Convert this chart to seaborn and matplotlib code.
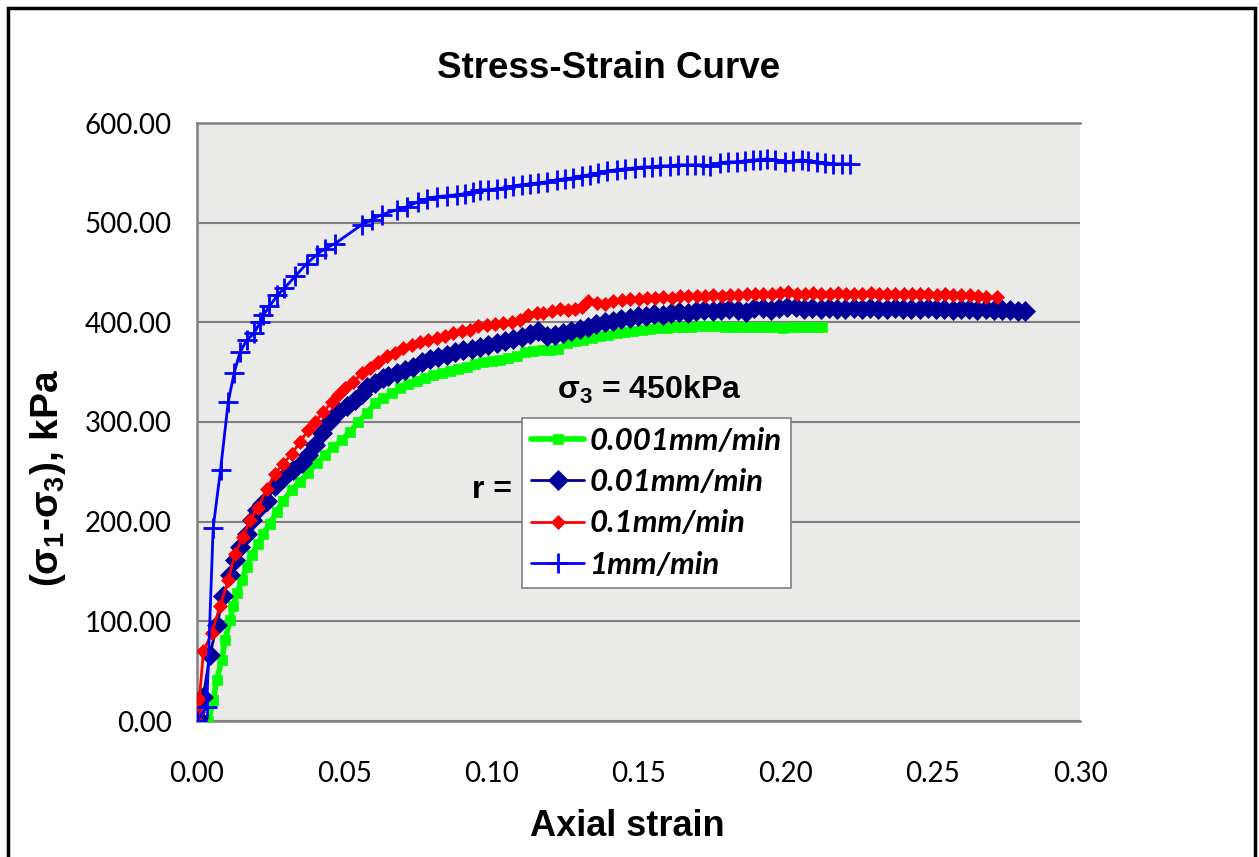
import matplotlib
matplotlib.use("Agg")
import matplotlib.pyplot as plt
import seaborn as sns
from matplotlib.patches import Rectangle

# data: axial strain vs deviator stress (kPa)
strain_001 = [0.0039, 0.0055, 0.0067, 0.0084, 0.0095, 0.0112, 0.0123, 0.0135, 0.0152, 0.0169,
              0.0186, 0.0208, 0.0225, 0.0248, 0.0271, 0.0293, 0.0322, 0.0350, 0.0378, 0.0407,
              0.0435, 0.0463, 0.0492, 0.0520, 0.0548, 0.0577, 0.0605, 0.0633, 0.0661, 0.0690,
              0.0718, 0.0747, 0.0775, 0.0803, 0.0831, 0.0860, 0.0888, 0.0916, 0.0945, 0.0973,
              0.1001, 0.1030, 0.1058, 0.1086, 0.1115, 0.1143, 0.1171, 0.1200, 0.1228, 0.1256,
              0.1284, 0.1313, 0.1341, 0.1369, 0.1398, 0.1426, 0.1454, 0.1482, 0.1511, 0.1539,
              0.1567, 0.1596, 0.1624, 0.1652, 0.1680, 0.1709, 0.1737, 0.1765, 0.1793, 0.1822,
              0.1850, 0.1878, 0.1906, 0.1935, 0.1963, 0.1991, 0.2019, 0.2048, 0.2076, 0.2104, 0.2122]
stress_001 = [0, 21, 41, 61, 81, 101, 115, 128, 141, 155,
              167, 178, 188, 198, 210, 221, 232, 240, 249, 259,
              267, 275, 282, 290, 300, 309, 319, 324, 329, 334,
              338, 341, 344, 347, 349, 351, 353, 355, 358, 360,
              361, 362, 364, 366, 370, 371, 372, 372, 373, 379,
              381, 382, 384, 386, 387, 389, 390, 391, 392, 393,
              394, 394, 395, 395, 395, 396, 396, 396, 395, 395,
              395, 395, 395, 395, 395, 394, 395, 395, 395, 395, 395]

strain_01 = [0.0000, 0.0005, 0.0021, 0.0044, 0.0067, 0.0090, 0.0112, 0.0129, 0.0146, 0.0169,
             0.0186, 0.0203, 0.0220, 0.0237, 0.0265, 0.0293, 0.0327, 0.0356, 0.0378, 0.0401,
             0.0424, 0.0452, 0.0480, 0.0509, 0.0537, 0.0560, 0.0577, 0.0605, 0.0633, 0.0650,
             0.0679, 0.0707, 0.0735, 0.0763, 0.0792, 0.0820, 0.0848, 0.0877, 0.0905, 0.0933,
             0.0962, 0.0990, 0.1018, 0.1047, 0.1075, 0.1103, 0.1131, 0.1159, 0.1188, 0.1216,
             0.1244, 0.1272, 0.1300, 0.1329, 0.1357, 0.1385, 0.1413, 0.1442, 0.1470, 0.1498,
             0.1526, 0.1554, 0.1583, 0.1611, 0.1639, 0.1667, 0.1696, 0.1724, 0.1752, 0.1780,
             0.1809, 0.1837, 0.1865, 0.1893, 0.1922, 0.1950, 0.1978, 0.2006, 0.2035, 0.2063,
             0.2091, 0.2119, 0.2147, 0.2175, 0.2203, 0.2231, 0.2259, 0.2287, 0.2315, 0.2343,
             0.2371, 0.2399, 0.2427, 0.2455, 0.2483, 0.2511, 0.2539, 0.2567, 0.2595, 0.2623,
             0.2651, 0.2679, 0.2707, 0.2735, 0.2763, 0.2791, 0.2813]
stress_01 = [0, 3, 24, 66, 96, 125, 146, 162, 175, 188,
             202, 212, 218, 221, 236, 244, 252, 259, 267, 277,
             289, 301, 310, 316, 322, 328, 335, 339, 344, 346,
             349, 352, 355, 360, 363, 365, 367, 370, 372, 373,
             375, 377, 379, 381, 383, 385, 388, 391, 386, 387,
             389, 391, 393, 395, 398, 400, 401, 403, 404, 406,
             406, 408, 407, 409, 410, 409, 411, 412, 411, 412,
             413, 412, 410, 414, 414, 412, 414, 415, 415, 413,
             414, 413, 414, 413, 413, 414, 413, 414, 413, 413,
             414, 413, 413, 413, 414, 413, 413, 412, 413, 413,
             412, 413, 412, 412, 412, 411, 411]

strain_1 = [0.0000, 0.0005, 0.0008, 0.0022, 0.0050, 0.0078, 0.0106, 0.0129, 0.0157, 0.0180,
            0.0208, 0.0237, 0.0265, 0.0293, 0.0322, 0.0350, 0.0378, 0.0401, 0.0429, 0.0458,
            0.0480, 0.0503, 0.0531, 0.0560, 0.0588, 0.0616, 0.0645, 0.0673, 0.0701, 0.0730,
            0.0758, 0.0786, 0.0814, 0.0843, 0.0871, 0.0899, 0.0928, 0.0956, 0.0984, 0.1013,
            0.1041, 0.1069, 0.1098, 0.1126, 0.1154, 0.1177, 0.1205, 0.1234, 0.1262, 0.1284,
            0.1307, 0.1330, 0.1358, 0.1386, 0.1415, 0.1443, 0.1471, 0.1500, 0.1528, 0.1556,
            0.1584, 0.1613, 0.1641, 0.1669, 0.1698, 0.1726, 0.1754, 0.1782, 0.1811, 0.1839,
            0.1867, 0.1896, 0.1924, 0.1952, 0.1981, 0.2009, 0.2037, 0.2065, 0.2093, 0.2121,
            0.2149, 0.2177, 0.2205, 0.2233, 0.2261, 0.2289, 0.2317, 0.2345, 0.2373, 0.2401,
            0.2429, 0.2457, 0.2485, 0.2513, 0.2541, 0.2569, 0.2597, 0.2625, 0.2653, 0.2681, 0.2717]
stress_1 = [0, 9, 22, 70, 88, 115, 141, 168, 185, 202,
            214, 233, 248, 258, 268, 280, 292, 300, 310, 320,
            327, 334, 340, 349, 354, 360, 366, 369, 374, 377,
            380, 382, 384, 386, 389, 391, 392, 396, 397, 398,
            399, 400, 402, 407, 409, 409, 411, 413, 412, 413,
            415, 421, 419, 418, 421, 422, 423, 423, 424, 424,
            425, 424, 426, 426, 426, 426, 427, 426, 427, 427,
            428, 428, 428, 428, 429, 430, 428, 428, 429, 428,
            428, 429, 428, 428, 428, 429, 428, 428, 428, 428,
            428, 428, 428, 427, 428, 427, 427, 427, 426, 425, 425]

strain_10 = [0.0000, 0.0033, 0.0055, 0.0080, 0.0106, 0.0126, 0.0146, 0.0169, 0.0194, 0.0214,
             0.0225, 0.0246, 0.0273, 0.0296, 0.0333, 0.0373, 0.0407, 0.0435, 0.0469, 0.0560,
             0.0594, 0.0628, 0.0679, 0.0713, 0.0752, 0.0780, 0.0814, 0.0848, 0.0882, 0.0910,
             0.0939, 0.0962, 0.0990, 0.1018, 0.1047, 0.1075, 0.1103, 0.1132, 0.1160, 0.1188,
             0.1222, 0.1250, 0.1279, 0.1307, 0.1335, 0.1364, 0.1392, 0.1426, 0.1454, 0.1488,
             0.1517, 0.1545, 0.1573, 0.1607, 0.1635, 0.1664, 0.1692, 0.1720, 0.1743, 0.1777,
             0.1805, 0.1833, 0.1862, 0.1890, 0.1913, 0.1935, 0.1964, 0.1998, 0.2026, 0.2055,
             0.2077, 0.2105, 0.2134, 0.2162, 0.2190, 0.2219]
stress_10 = [0, 14, 194, 252, 320, 349, 370, 382, 389, 400,
             407, 416, 427, 434, 446, 459, 468, 474, 479, 498,
             503, 508, 513, 516, 521, 524, 526, 527, 528, 529,
             531, 533, 533, 534, 535, 537, 538, 539, 540, 541,
             543, 544, 545, 547, 548, 550, 552, 553, 554, 555,
             556, 556, 557, 557, 558, 558, 558, 558, 557, 560,
             561, 561, 562, 563, 563, 564, 563, 561, 562, 563,
             562, 561, 560, 559, 559, 559]

rate_labels = ["0.001mm/min", "0.01mm/min", "0.1mm/min", "1mm/min"]
x_ticks = [0.00, 0.05, 0.10, 0.15, 0.20, 0.25, 0.30]
y_ticks = [0, 100, 200, 300, 400, 500, 600]

sns.set_style("white")
plt.rcParams["font.family"] = ["Liberation Sans", "DejaVu Sans"]
plt.rcParams["text.color"] = "black"
plt.rcParams["axes.labelcolor"] = "black"
plt.rcParams["xtick.color"] = "black"
plt.rcParams["ytick.color"] = "black"
plt.rcParams["mathtext.fontset"] = "custom"
plt.rcParams["mathtext.rm"] = "Liberation Sans:bold"
plt.rcParams["mathtext.it"] = "Liberation Sans:bold"
plt.rcParams["mathtext.bf"] = "Liberation Sans:bold"

fig = plt.figure(figsize=(12.59, 8.57), dpi=100)
ax = fig.add_axes([197 / 1259, 1 - 721 / 857, 883 / 1259, 598 / 857])
ax.set_facecolor("#eaeae8")

# series in Excel order, later ones drawn on top
series = [
    (strain_001, stress_001, "#00ff00", "s", 7, 4.0, rate_labels[0]),
    (strain_01, stress_01, "#000099", "D", 10, 2.0, rate_labels[1]),
    (strain_1, stress_1, "#ff0000", "D", 7.5, 2.0, rate_labels[2]),
    (strain_10, stress_10, "#0000ff", "+", 14, 2.0, rate_labels[3]),
]
for i, (xs, ys, col, mk, ms, lw, lab) in enumerate(series):
    sns.lineplot(x=xs, y=ys, ax=ax, color=col, marker=mk, markersize=ms,
                 markeredgecolor=col, markeredgewidth=2 if mk == "+" else 0.5,
                 linewidth=lw, sort=False, estimator=None, label=lab, zorder=3 + i)

ax.set_xlim(0, 0.30)
ax.set_ylim(0, 600)
ax.set_xticks(x_ticks)
ax.set_yticks(y_ticks)
ax.set_xticklabels([f"{v:.2f}" for v in x_ticks], fontsize=20, family="Lato")
ax.set_yticklabels([f"{v:.2f}" for v in y_ticks], fontsize=20, family="Lato")
ax.tick_params(axis="x", direction="out", length=8, width=1.5, color="#808080", pad=21)
ax.tick_params(axis="y", direction="out", length=6, width=1.5, color="#808080", pad=12)
ax.grid(axis="y", color="#808080", linewidth=1.5)
ax.set_axisbelow(True)
for side in ["left", "bottom", "top"]:
    ax.spines[side].set_color("#808080")
    ax.spines[side].set_linewidth(1.8)
ax.spines["right"].set_visible(False)

ax.set_xlabel("Axial strain", fontsize=26, fontweight="bold", labelpad=16)
ax.xaxis.label.set_x((627 - 197) / 883)
ax.set_ylabel("(σ$_1$-σ$_3$), kPa", fontsize=28, fontweight="bold", labelpad=12)
ax.yaxis.label.set_y((721 - 478) / 598)
fig.text(609 / 1259, 1 - 68 / 857, "Stress-Strain Curve", fontsize=26.5,
         fontweight="bold", ha="center", va="center")

ax.text(0.1536, 332, "σ$_3$ = 450kPa", fontsize=23, fontweight="bold",
        ha="center", va="center", zorder=2)
ax.text(0.0934, 232, "r =", fontsize=23, fontweight="bold",
        ha="left", va="center", zorder=2)

leg = ax.legend(loc="upper left", bbox_to_anchor=(0.368, 0.507), borderaxespad=0,
                frameon=True, fancybox=False, edgecolor="#808080", framealpha=1,
                prop={"family": "Lato", "style": "italic", "weight": "bold", "size": 22.5},
                handlelength=1.7, handletextpad=0.15, labelspacing=0.42, borderpad=0.3)
leg.get_frame().set_linewidth(1.2)
leg.set_zorder(10)

# black frame around the chart area
fig.patches.append(Rectangle((8 / 1259, -0.01), 1247 / 1259, 1 - 8 / 857 + 0.01,
                             transform=fig.transFigure, fill=False,
                             edgecolor="black", linewidth=2.5))

fig.savefig("out.png", dpi=100)
